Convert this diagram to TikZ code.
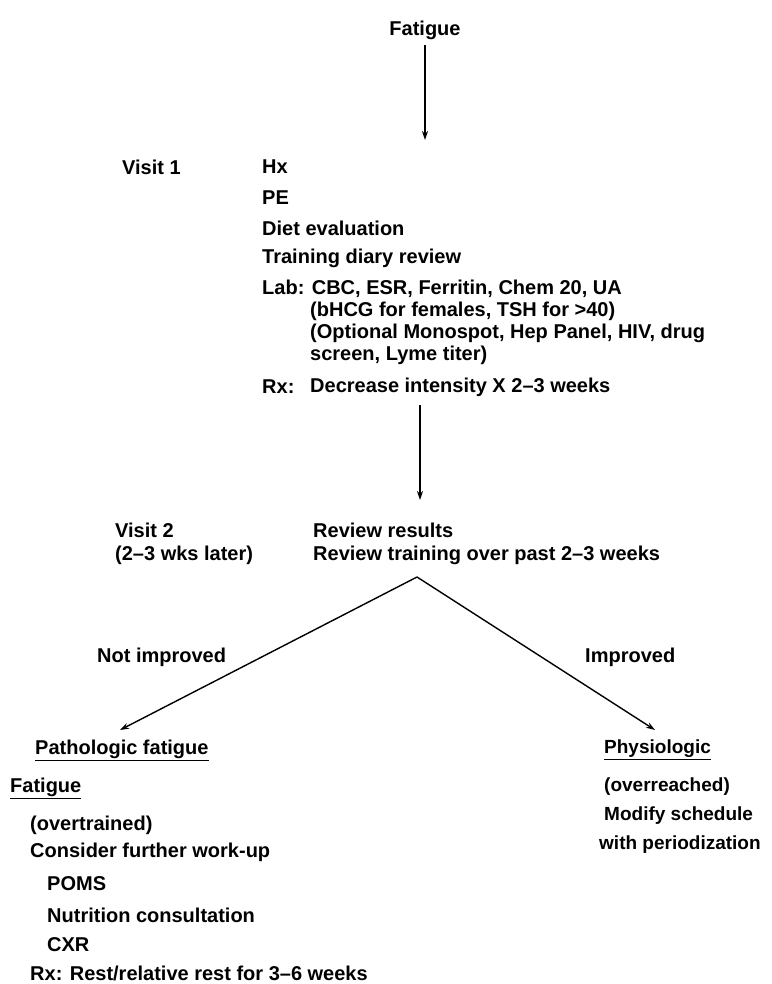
\documentclass[tikz,border=0pt]{standalone}
\usepackage{fontspec}
\setmainfont{Liberation Sans}
\usetikzlibrary{arrows.meta}
\begin{document}
\begin{tikzpicture}[x=1pt,y=-1pt,
  txt/.style={anchor=west,inner sep=0pt,font=\fontsize{20}{24}\selectfont\bfseries},
  rtxt/.style={anchor=west,inner sep=0pt,font=\fontsize{19}{23}\selectfont\bfseries},
  conn/.style={line width=1.4pt,-{Stealth[length=9pt,width=6pt]}}]
\fill[white] (0,0) rectangle (771,984);
\useasboundingbox (0,0) rectangle (771,984);
% top
\node[anchor=center,inner sep=0pt,font=\fontsize{20}{24}\selectfont\bfseries] (fat) at (425,30) {Fatigue};
\coordinate (a1e) at (425,140);
\draw[conn] (fat.south |- 0,45) -- (a1e);
% visit 1
\node[txt] (v1) at (122,167) {Visit 1};
\node[txt] (hx) at (262,167) {Hx};
\node[txt] (pe) at (262,198) {PE};
\node[txt] (diet) at (262,228) {Diet evaluation};
\node[txt] (diary) at (262,258) {Training diary review};
\node[txt] (lab) at (262,289) {Lab: CBC, ESR, Ferritin, Chem 20, UA};
\node[txt] (lab2) at (310,311) {(bHCG for females, TSH for >40)};
\node[txt] (lab3) at (310,333) {(Optional Monospot, Hep Panel, HIV, drug};
\node[txt] (lab4) at (310,355) {screen, Lyme titer)};
\node[txt] (rx1) at (262,387) {Rx:};
\node[txt] (rx1b) at (310,387) {Decrease intensity X 2--3 weeks};
\coordinate (a2s) at (420,405);
\coordinate (a2e) at (420,500);
\draw[conn] (a2s) -- (a2e);
% visit 2
\node[txt] (v2) at (115,530) {Visit 2};
\node[txt] (v2b) at (115,555) {(2--3 wks later)};
\node[txt] (rr) at (313,530) {Review results};
\node[txt] (rt) at (313,555) {Review training over past 2--3 weeks};
% branches
\coordinate (apex) at (417,577);
\coordinate (lt) at (120,730);
\coordinate (rtip) at (655,730);
\draw[conn] (apex) -- (lt);
\draw[conn] (apex) -- (rtip);
\node[txt] (ni) at (97,657) {Not improved};
\node[txt] (im) at (585,657) {Improved};
% left result
\node[txt] (path) at (35,750) {\underline{Pathologic fatigue}};
\node[txt] (fat2) at (10,788) {\underline{Fatigue}};
\node[txt] (ot) at (30,825) {(overtrained)};
\node[txt] (cons) at (30,852) {Consider further work-up};
\node[txt] (poms) at (47,884) {POMS};
\node[txt] (nut) at (47,915) {Nutrition consultation};
\node[txt] (cxr) at (47,945) {CXR};
\node[txt] (rx2) at (30,973) {Rx: Rest/relative rest for 3--6 weeks};
% right result
\node[rtxt] (phys) at (604,750) {\underline{Physiologic}};
\node[rtxt] (or) at (604,787) {(overreached)};
\node[rtxt] (mod) at (604,816) {Modify schedule};
\node[rtxt] (per) at (599,845) {with periodization};
\end{tikzpicture}
\end{document}
